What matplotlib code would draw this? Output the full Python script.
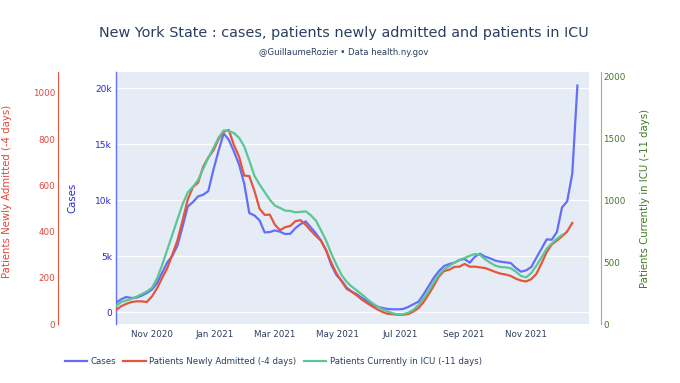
import matplotlib
matplotlib.use("Agg")
import matplotlib.pyplot as plt
import matplotlib.dates as mdates
import matplotlib.ticker as mticker
import pandas as pd
import numpy as np

# ---- data (5-day samples) ----
start_date = "2020-09-27"
cases = [862, 1159, 1368, 1278, 1308, 1487, 1724, 2022, 2616, 3538,
         4460, 5054, 5976, 7670, 9454, 9841, 10346, 10495, 10822, 12724,
         14419, 15965, 15400, 14360, 13200, 11506, 8860, 8651, 8205, 7135,
         7165, 7314, 7195, 6987, 7016, 7522, 7878, 8116, 7581, 7046,
         6392, 5530, 4222, 3330, 2824, 2200, 1843, 1605, 1280, 1011,
         684, 505, 386, 297, 268, 268, 297, 476, 714, 951,
         1605, 2349, 3092, 3687, 4132, 4311, 4430, 4668, 4757, 4430,
         4965, 5232, 4965, 4816, 4608, 4519, 4460, 4400, 3954, 3627,
         3746, 4043, 4876, 5678, 6511, 6481, 7165, 9365, 9900, 12368,
         20246]
admitted = [60, 77, 87, 95, 98, 98, 95, 119, 155, 199,
            242, 301, 363, 449, 539, 592, 611, 680, 720, 751,
            799, 832, 839, 774, 724, 642, 640, 576, 499, 472,
            473, 429, 406, 419, 424, 445, 449, 429, 404, 381,
            360, 317, 265, 219, 185, 152, 139, 123, 105, 90,
            76, 63, 52, 44, 42, 40, 40, 43, 54, 69,
            95, 129, 166, 206, 229, 235, 247, 248, 260, 248,
            248, 245, 242, 234, 225, 218, 214, 208, 196, 188,
            184, 194, 217, 262, 311, 344, 361, 379, 400, 437]
icu = [145, 177, 190, 203, 220, 241, 262, 292, 367, 477,
       600, 723, 846, 969, 1063, 1108, 1162, 1253, 1341, 1421,
       1504, 1563, 1558, 1542, 1504, 1435, 1320, 1197, 1127, 1065,
       1004, 956, 937, 916, 913, 902, 905, 910, 878, 835,
       755, 672, 568, 479, 396, 340, 302, 270, 238, 201,
       169, 142, 118, 102, 86, 78, 80, 91, 115, 153,
       206, 268, 337, 399, 442, 468, 495, 517, 533, 551,
       565, 559, 522, 495, 471, 460, 458, 450, 423, 388,
       377, 412, 471, 538, 608, 650, 688, 720]

x_ticks = ["2020-11-01", "2021-01-01", "2021-03-01", "2021-05-01",
           "2021-07-01", "2021-09-01", "2021-11-01"]
names = ["Cases", "Patients Newly Admitted (-4 days)", "Patients Currently in ICU (-11 days)"]
title = "New York State : cases, patients newly admitted and patients in ICU"
subtitle = "@GuillaumeRozier \u2022 Data health.ny.gov"

d_cases = pd.date_range(start_date, periods=len(cases), freq="5D")
d_adm = pd.date_range(start_date, periods=len(admitted), freq="5D")
d_icu = pd.date_range(start_date, periods=len(icu), freq="5D")

# ---- style ----
C_BLUE = "#636efa"
C_RED = "#e5553b"
C_GREEN = "#5ac695"
TXT = "#2a3f5f"
plt.rcParams["font.family"] = ["DejaVu Sans"]

fig = plt.figure(figsize=(6.8, 3.83), dpi=100)
ax = fig.add_axes([0.1706, 0.154, 0.6951, 0.658])
ax.set_facecolor("#e5ecf6")
ax_r = ax.twinx()
ax_g = ax.twinx()

l1, = ax.plot(d_cases, cases, color=C_BLUE, lw=1.6, label=names[0], zorder=3)
l2, = ax_r.plot(d_adm, admitted, color=C_RED, lw=1.6, label=names[1])
l3, = ax_g.plot(d_icu, icu, color=C_GREEN, lw=1.6, label=names[2])

ax.set_xlim(pd.Timestamp("2020-09-27"), pd.Timestamp("2022-01-01"))
ax.set_ylim(-1045, 21455)
ax_r.set_ylim(0, 1090)
ax_g.set_ylim(0, 2035)

# host (cases) axis
for s in ["top", "right", "bottom"]:
    ax.spines[s].set_visible(False)
ax.spines["left"].set_color(C_BLUE)
ax.spines["left"].set_linewidth(1.0)
ax.yaxis.set_major_locator(mticker.FixedLocator([0, 5000, 10000, 15000, 20000]))
ax.yaxis.set_major_formatter(mticker.FuncFormatter(lambda v, p: "0" if v == 0 else f"{int(v/1000)}k"))
ax.tick_params(axis="y", length=0, pad=3, labelsize=6.5, labelcolor="#2a2ad0")
ax.grid(axis="y", color="white", lw=0.9)
ax.set_axisbelow(True)
ax.set_ylabel("Cases", color="#2a2ad0", fontsize=7.3)
ax.yaxis.set_label_coords(-0.0825, 0.5)

ax.xaxis.set_major_locator(mticker.FixedLocator(mdates.date2num(pd.to_datetime(x_ticks))))
ax.xaxis.set_major_formatter(mdates.DateFormatter("%b %Y"))
ax.tick_params(axis="x", length=0, pad=4, labelsize=6.3, labelcolor=TXT)

# red axis (left, offset)
for s in ["top", "right", "bottom"]:
    ax_r.spines[s].set_visible(False)
ax_r.spines["left"].set_visible(True)
ax_r.spines["left"].set_position(("axes", -0.1227))
ax_r.spines["left"].set_color(C_RED)
ax_r.yaxis.set_ticks_position("left")
ax_r.yaxis.set_label_position("left")
ax_r.yaxis.set_major_locator(mticker.MultipleLocator(200))
ax_r.tick_params(axis="y", length=0, pad=2, labelsize=6.3, labelcolor="#e0473a")
ax_r.set_ylabel(names[1], color="#e0473a", fontsize=7.3)
ax_r.yaxis.set_label_coords(-0.22, 0.526)

# green axis (right, offset)
for s in ["top", "left", "bottom"]:
    ax_g.spines[s].set_visible(False)
ax_g.spines["right"].set_position(("axes", 1.0254))
ax_g.spines["right"].set_color("#9db48a")
ax_g.yaxis.set_major_locator(mticker.MultipleLocator(500))
ax_g.tick_params(axis="y", length=0, pad=2, labelsize=6.3, labelcolor="#3f7a25")
ax_g.set_ylabel(names[2], color="#3f7a25", fontsize=7.3)
ax_g.yaxis.set_label_coords(1.1085, 0.5)

fig.text(0.506, 0.914, title, ha="center", va="center", fontsize=10.35, color=TXT)
fig.text(0.506, 0.862, subtitle, ha="center", va="center", fontsize=6.1, color=TXT)

fig.legend(handles=[l1, l2, l3], loc="center left", bbox_to_anchor=(0.09, 0.0574),
           ncol=3, frameon=False, fontsize=6.2, handlelength=2.6, handletextpad=0.4,
           columnspacing=0.85, labelcolor=TXT, borderaxespad=0)

fig.savefig("out.png", dpi=100)
